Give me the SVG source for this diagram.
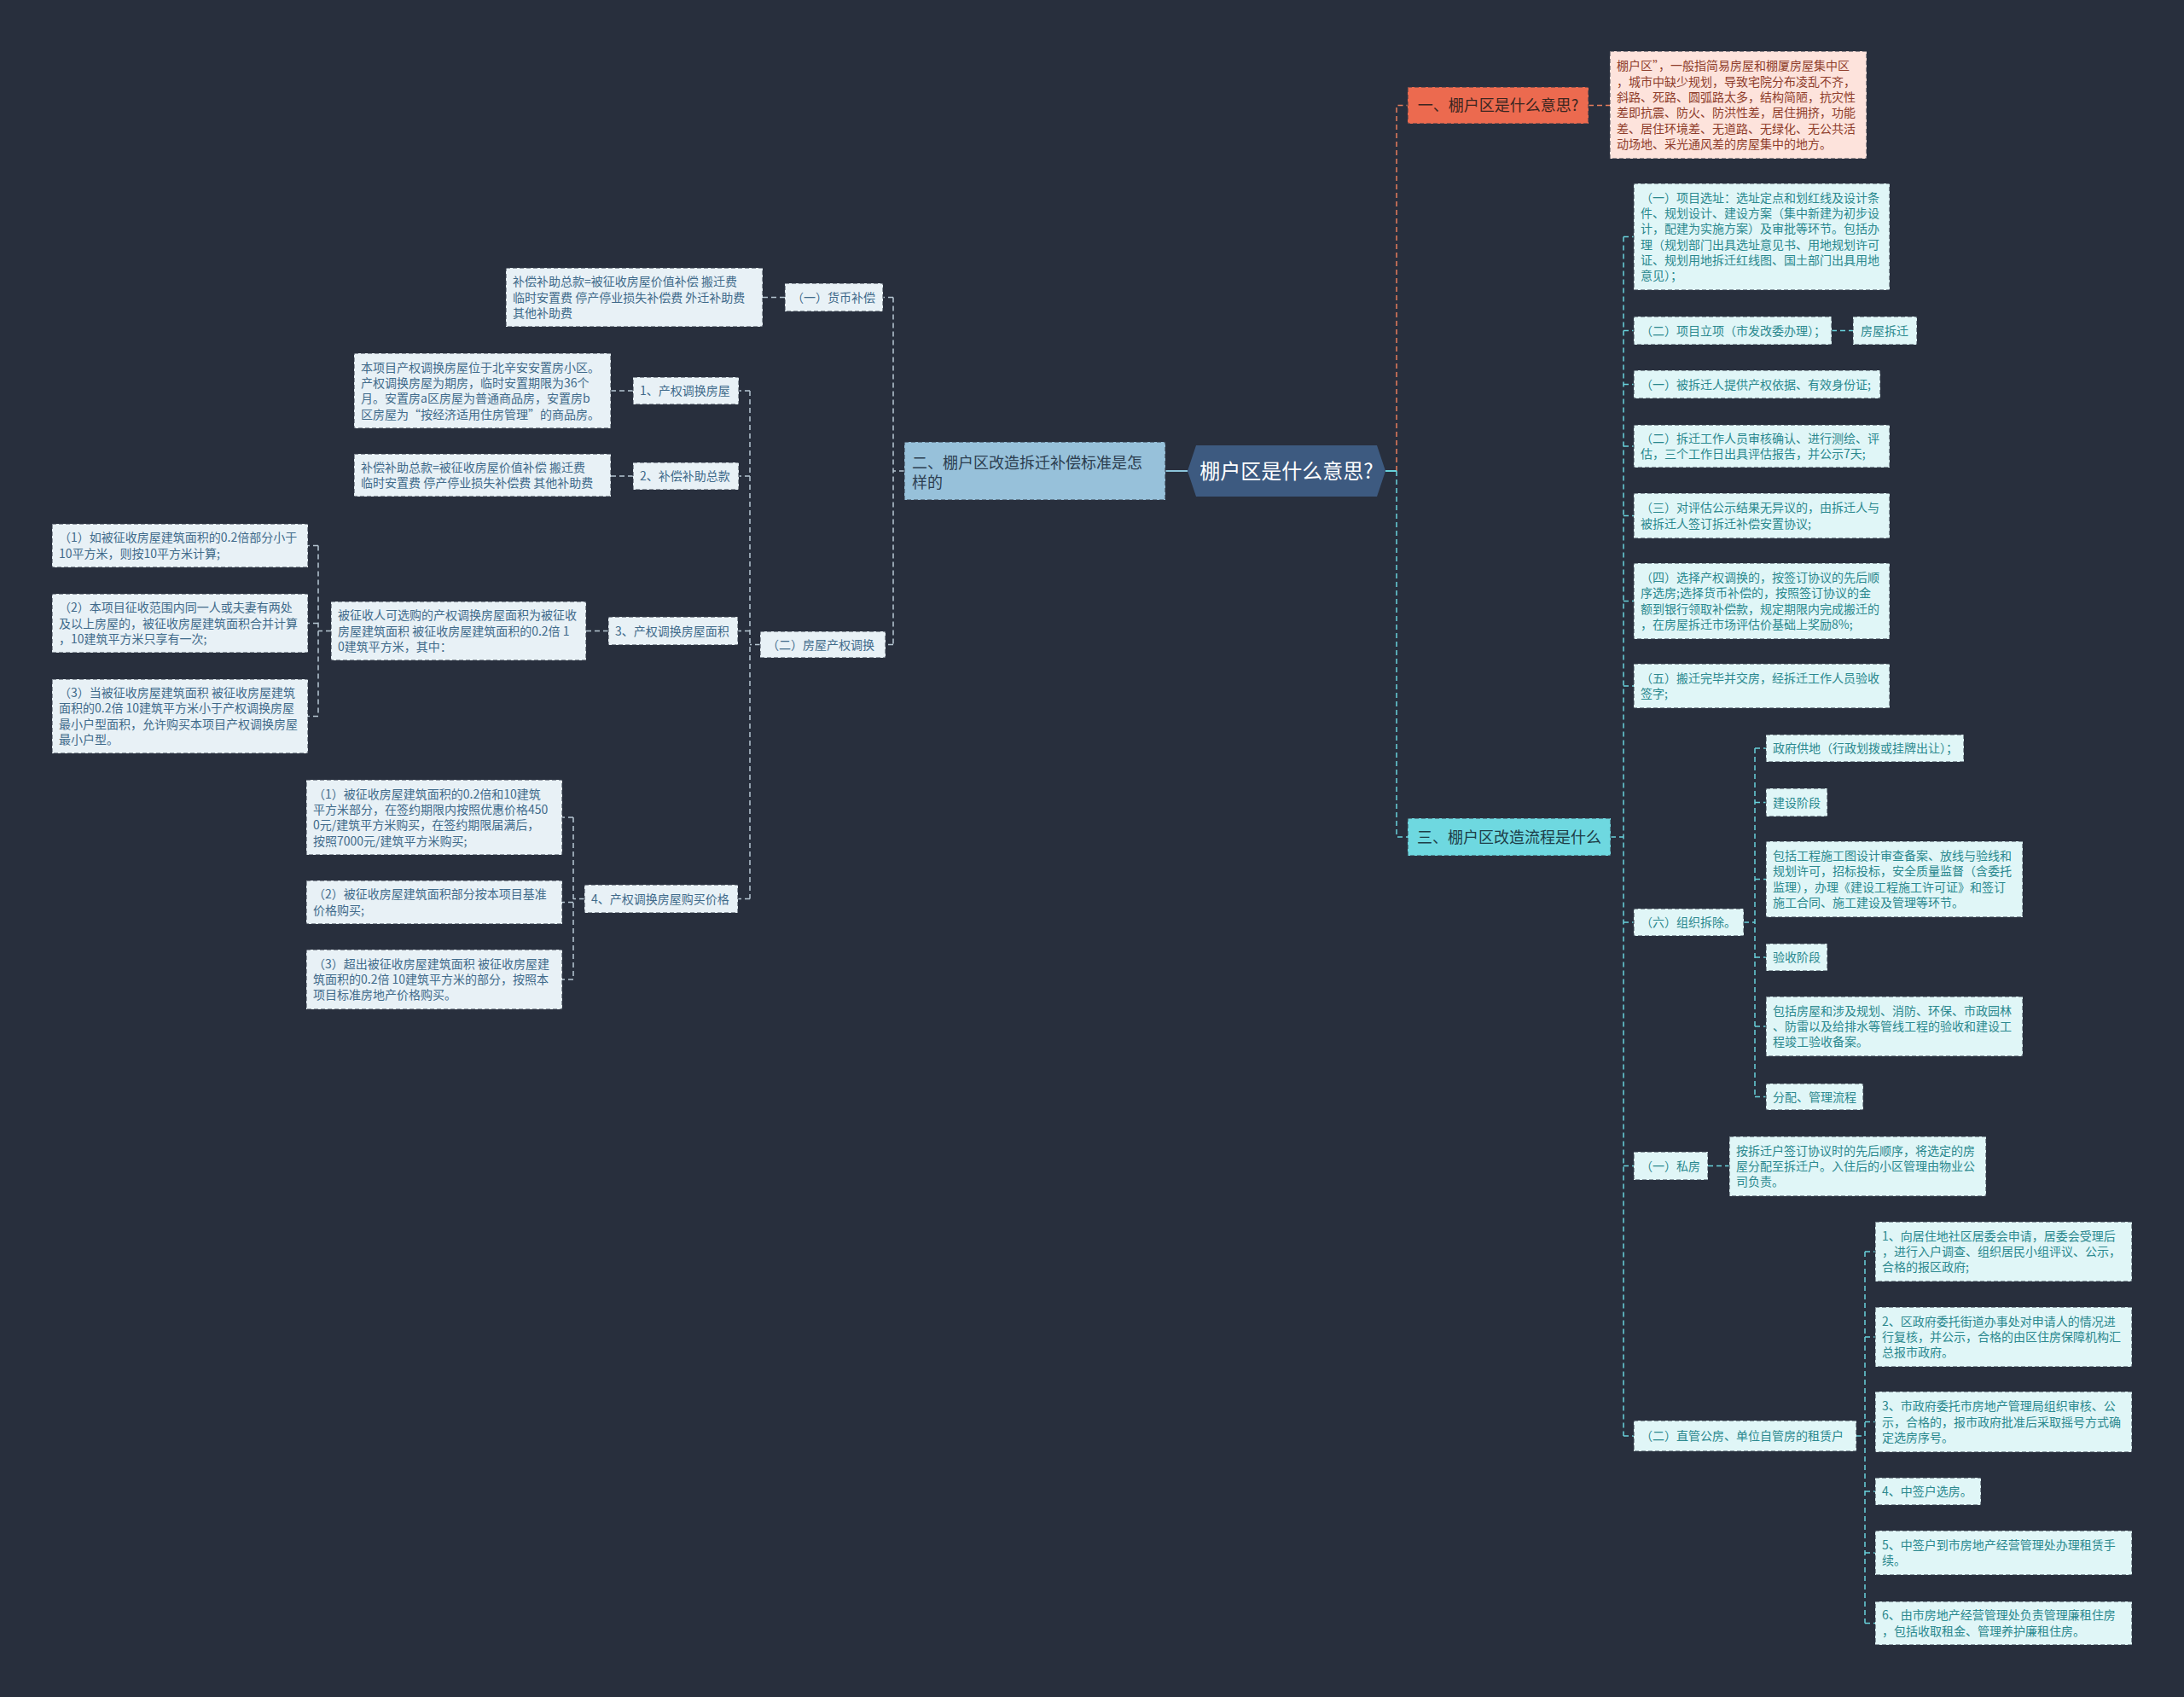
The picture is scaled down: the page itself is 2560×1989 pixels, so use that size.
<svg xmlns="http://www.w3.org/2000/svg" width="2560" height="1989" viewBox="0 0 2560 1989">
<style>
text{font-family:"Noto Sans CJK SC","Liberation Sans",sans-serif}
.bx{stroke:#2f3745;stroke-width:1;stroke-dasharray:5 3}
.lb{fill:#e8f1f6}
.tb{fill:#e0f6f7}
.rb{fill:#fde3dc}
.s{font-size:14px}
.lt{fill:#3f6a8a}
.tt{fill:#2a888e}
.rt{fill:#8f3d2b}
.c{fill:none;stroke-width:1.5;stroke-dasharray:6 4}
.cl{stroke:#b6c7d3}
.ct{stroke:#68d2db}
.co{stroke:#e67d5c}
</style>
<rect width="2560" height="1989" fill="#282f3d"/>
<g id="connectors">
<path class="c co" d="M1637,552 V123.5 H1650"/>
<path class="c co" d="M1862,123.5 H1887"/>
<path d="M1624,552 H1637" stroke="#68d2db" stroke-width="2"/>
<path d="M1366,552 H1392" stroke="#8cc4da" stroke-width="2"/>
<path class="c ct" d="M1637,552 V981 H1650"/>
<path class="c ct" d="M1888,981 H1903 M1903,277.5 V1683"/>
<path class="c ct" d="M1903,277.5 H1915 M1903,387.5 H1915 M1903,450.5 H1915 M1903,523 H1915 M1903,604.5 H1915 M1903,704.5 H1915 M1903,804 H1915 M1903,1081 H1915 M1903,1366.5 H1915 M1903,1683 H1915"/>
<path class="c ct" d="M2147,387.5 H2172"/>
<path class="c ct" d="M2044,1081 H2057 M2057,877 V1285.5 M2057,877 H2070 M2057,940.5 H2070 M2057,1030.5 H2070 M2057,1122 H2070 M2057,1203 H2070 M2057,1285.5 H2070"/>
<path class="c ct" d="M2002,1366.5 H2027"/>
<path class="c ct" d="M2176,1683 H2186 M2186,1467 V1902.5 M2186,1467 H2198 M2186,1567 H2198 M2186,1666.5 H2198 M2186,1748 H2198 M2186,1820 H2198 M2186,1902.5 H2198"/>
<path class="c cl" d="M1060,552 H1047 M1047,348.5 V755.5 M1047,348.5 H1035 M1047,755.5 H1038"/>
<path class="c cl" d="M920,348.5 H894"/>
<path class="c cl" d="M891,755.5 H879 M879,458 V1053.5 M879,458 H866 M879,558 H866 M879,739.5 H865 M879,1053.5 H865"/>
<path class="c cl" d="M742,458 H716 M742,558 H716 M713,739.5 H687"/>
<path class="c cl" d="M388,739.5 H373 M373,639.5 V839.5 M373,639.5 H361 M373,730.5 H361 M373,839.5 H361"/>
<path class="c cl" d="M685,1053.5 H672 M672,958 V1148 M672,958 H659 M672,1057.5 H659 M672,1148 H659"/>
</g>
<g id="root">
<polygon points="1392,552 1402,522 1614,522 1624,552 1614,582 1402,582" fill="#3d5a80"/>
<text x="1508" y="560.5" font-size="24" fill="#ffffff" text-anchor="middle">棚户区是什么意思?</text>
</g>
<g id="n1">
<rect x="1650" y="102" width="212" height="43" fill="#ec6a4f" class="bx"/>
<text x="1756" y="130" font-size="18" fill="#3a2520" text-anchor="middle">一、棚户区是什么意思?</text>
</g>
<g id="n1a">
<rect x="1887" y="60" width="301" height="126" class="bx rb"/>
<text class="s rt" x="1895" y="82.3"><tspan x="1895">棚户区”，一般指简易房屋和棚厦房屋集中区</tspan><tspan x="1895" dy="18.3">，城市中缺少规划，导致宅院分布凌乱不齐，</tspan><tspan x="1895" dy="18.3">斜路、死路、圆弧路太多，结构简陋，抗灾性</tspan><tspan x="1895" dy="18.3">差即抗震、防火、防洪性差，居住拥挤，功能</tspan><tspan x="1895" dy="18.3">差、居住环境差、无道路、无绿化、无公共活</tspan><tspan x="1895" dy="18.3">动场地、采光通风差的房屋集中的地方。</tspan></text>
</g>
<g id="n2">
<rect x="1060" y="518" width="306" height="68" fill="#97c1da" class="bx"/>
<text x="1069" y="548.5" font-size="18" fill="#2c3e50"><tspan x="1069">二、棚户区改造拆迁补偿标准是怎</tspan><tspan x="1069" dy="23">样的</tspan></text>
</g>
<g id="n3">
<rect x="1650" y="959" width="238" height="44" fill="#6ed8e0" class="bx"/>
<text x="1769" y="987.5" font-size="18" fill="#1d3d47" text-anchor="middle">三、棚户区改造流程是什么</text>
</g>
<g id="r1">
<rect x="1915" y="215" width="300" height="125" class="bx tb"/>
<text class="s tt" x="1923" y="236.8"><tspan x="1923">（一）项目选址：选址定点和划红线及设计条</tspan><tspan x="1923" dy="18.3">件、规划设计、建设方案（集中新建为初步设</tspan><tspan x="1923" dy="18.3">计，配建为实施方案）及审批等环节。包括办</tspan><tspan x="1923" dy="18.3">理（规划部门出具选址意见书、用地规划许可</tspan><tspan x="1923" dy="18.3">证、规划用地拆迁红线图、国土部门出具用地</tspan><tspan x="1923" dy="18.3">意见）；</tspan></text>
</g>
<g id="r2">
<rect x="1915" y="371" width="232" height="33" class="bx tb"/>
<text class="s tt" x="1923" y="392.5">（二）项目立项（市发改委办理）；</text>
</g>
<g id="r2a">
<rect x="2172" y="371" width="75" height="33" class="bx tb"/>
<text class="s tt" x="2181" y="392.5">房屋拆迁</text>
</g>
<g id="r3">
<rect x="1915" y="434" width="289" height="33" class="bx tb"/>
<text class="s tt" x="1923" y="455.5">（一）被拆迁人提供产权依据、有效身份证;</text>
</g>
<g id="r4">
<rect x="1915" y="498" width="300" height="50" class="bx tb"/>
<text class="s tt" x="1923" y="518.9"><tspan x="1923">（二）拆迁工作人员审核确认、进行测绘、评</tspan><tspan x="1923" dy="18.3">估，三个工作日出具评估报告，并公示7天;</tspan></text>
</g>
<g id="r5">
<rect x="1915" y="578" width="300" height="53" class="bx tb"/>
<text class="s tt" x="1923" y="600.4"><tspan x="1923">（三）对评估公示结果无异议的，由拆迁人与</tspan><tspan x="1923" dy="18.3">被拆迁人签订拆迁补偿安置协议;</tspan></text>
</g>
<g id="r6">
<rect x="1915" y="660" width="300" height="89" class="bx tb"/>
<text class="s tt" x="1923" y="682.1"><tspan x="1923">（四）选择产权调换的，按签订协议的先后顺</tspan><tspan x="1923" dy="18.3">序选房;选择货币补偿的，按照签订协议的金</tspan><tspan x="1923" dy="18.3">额到银行领取补偿款，规定期限内完成搬迁的</tspan><tspan x="1923" dy="18.3">，在房屋拆迁市场评估价基础上奖励8%;</tspan></text>
</g>
<g id="r7">
<rect x="1915" y="778" width="300" height="52" class="bx tb"/>
<text class="s tt" x="1923" y="799.9"><tspan x="1923">（五）搬迁完毕并交房，经拆迁工作人员验收</tspan><tspan x="1923" dy="18.3">签字;</tspan></text>
</g>
<g id="r8">
<rect x="1915" y="1065" width="129" height="32" class="bx tb"/>
<text class="s tt" x="1923" y="1086">（六）组织拆除。</text>
</g>
<g id="r8a">
<rect x="2070" y="861" width="232" height="32" class="bx tb"/>
<text class="s tt" x="2078" y="882">政府供地（行政划拨或挂牌出让）；</text>
</g>
<g id="r8b">
<rect x="2070" y="924" width="72" height="33" class="bx tb"/>
<text class="s tt" x="2078" y="945.5">建设阶段</text>
</g>
<g id="r8c">
<rect x="2070" y="986" width="301" height="89" class="bx tb"/>
<text class="s tt" x="2078" y="1008.1"><tspan x="2078">包括工程施工图设计审查备案、放线与验线和</tspan><tspan x="2078" dy="18.3">规划许可，招标投标，安全质量监督（含委托</tspan><tspan x="2078" dy="18.3">监理），办理《建设工程施工许可证》和签订</tspan><tspan x="2078" dy="18.3">施工合同、施工建设及管理等环节。</tspan></text>
</g>
<g id="r8d">
<rect x="2070" y="1106" width="72" height="32" class="bx tb"/>
<text class="s tt" x="2078" y="1127">验收阶段</text>
</g>
<g id="r8e">
<rect x="2070" y="1168" width="301" height="70" class="bx tb"/>
<text class="s tt" x="2078" y="1189.7"><tspan x="2078">包括房屋和涉及规划、消防、环保、市政园林</tspan><tspan x="2078" dy="18.3">、防雷以及给排水等管线工程的验收和建设工</tspan><tspan x="2078" dy="18.3">程竣工验收备案。</tspan></text>
</g>
<g id="r8f">
<rect x="2070" y="1270" width="114" height="31" class="bx tb"/>
<text class="s tt" x="2078" y="1290.5">分配、管理流程</text>
</g>
<g id="r9">
<rect x="1915" y="1350" width="87" height="33" class="bx tb"/>
<text class="s tt" x="1923" y="1371.5">（一）私房</text>
</g>
<g id="r9a">
<rect x="2027" y="1332" width="301" height="70" class="bx tb"/>
<text class="s tt" x="2035" y="1353.7"><tspan x="2035">按拆迁户签订协议时的先后顺序，将选定的房</tspan><tspan x="2035" dy="18.3">屋分配至拆迁户。入住后的小区管理由物业公</tspan><tspan x="2035" dy="18.3">司负责。</tspan></text>
</g>
<g id="r10">
<rect x="1915" y="1665" width="261" height="36" class="bx tb"/>
<text class="s tt" x="1923" y="1688">（二）直管公房、单位自管房的租赁户</text>
</g>
<g id="r10a">
<rect x="2198" y="1432" width="301" height="70" class="bx tb"/>
<text class="s tt" x="2206" y="1453.7"><tspan x="2206">1、向居住地社区居委会申请，居委会受理后</tspan><tspan x="2206" dy="18.3">，进行入户调查、组织居民小组评议、公示，</tspan><tspan x="2206" dy="18.3">合格的报区政府;</tspan></text>
</g>
<g id="r10b">
<rect x="2198" y="1532" width="301" height="70" class="bx tb"/>
<text class="s tt" x="2206" y="1553.7"><tspan x="2206">2、区政府委托街道办事处对申请人的情况进</tspan><tspan x="2206" dy="18.3">行复核，并公示，合格的由区住房保障机构汇</tspan><tspan x="2206" dy="18.3">总报市政府。</tspan></text>
</g>
<g id="r10c">
<rect x="2198" y="1631" width="301" height="71" class="bx tb"/>
<text class="s tt" x="2206" y="1653.2"><tspan x="2206">3、市政府委托市房地产管理局组织审核、公</tspan><tspan x="2206" dy="18.3">示，合格的，报市政府批准后采取摇号方式确</tspan><tspan x="2206" dy="18.3">定选房序号。</tspan></text>
</g>
<g id="r10d">
<rect x="2198" y="1732" width="124" height="32" class="bx tb"/>
<text class="s tt" x="2206" y="1753">4、中签户选房。</text>
</g>
<g id="r10e">
<rect x="2198" y="1794" width="301" height="52" class="bx tb"/>
<text class="s tt" x="2206" y="1815.9"><tspan x="2206">5、中签户到市房地产经营管理处办理租赁手</tspan><tspan x="2206" dy="18.3">续。</tspan></text>
</g>
<g id="r10f">
<rect x="2198" y="1877" width="301" height="51" class="bx tb"/>
<text class="s tt" x="2206" y="1898.4"><tspan x="2206">6、由市房地产经营管理处负责管理廉租住房</tspan><tspan x="2206" dy="18.3">，包括收取租金、管理养护廉租住房。</tspan></text>
</g>
<g id="l1">
<rect x="920" y="332" width="115" height="33" class="bx lb"/>
<text class="s lt" x="928" y="353.5">（一）货币补偿</text>
</g>
<g id="l1a">
<rect x="593" y="314" width="301" height="69" class="bx lb"/>
<text class="s lt" x="601" y="335.2"><tspan x="601">补偿补助总款=被征收房屋价值补偿 搬迁费</tspan><tspan x="601" dy="18.3">临时安置费 停产停业损失补偿费 外迁补助费</tspan><tspan x="601" dy="18.3">其他补助费</tspan></text>
</g>
<g id="l2">
<rect x="891" y="740" width="147" height="31" class="bx lb"/>
<text class="s lt" x="899" y="760.5">（二）房屋产权调换</text>
</g>
<g id="l2a">
<rect x="742" y="442" width="124" height="32" class="bx lb"/>
<text class="s lt" x="750" y="463">1、产权调换房屋</text>
</g>
<g id="l2a1">
<rect x="415" y="414" width="301" height="88" class="bx lb"/>
<text class="s lt" x="423" y="435.6"><tspan x="423">本项目产权调换房屋位于北辛安安置房小区。</tspan><tspan x="423" dy="18.3">产权调换房屋为期房，临时安置期限为36个</tspan><tspan x="423" dy="18.3">月。安置房a区房屋为普通商品房，安置房b</tspan><tspan x="423" dy="18.3">区房屋为“按经济适用住房管理”的商品房。</tspan></text>
</g>
<g id="l2b">
<rect x="742" y="542" width="124" height="32" class="bx lb"/>
<text class="s lt" x="750" y="563">2、补偿补助总款</text>
</g>
<g id="l2b1">
<rect x="415" y="532" width="301" height="50" class="bx lb"/>
<text class="s lt" x="423" y="552.9"><tspan x="423">补偿补助总款=被征收房屋价值补偿 搬迁费</tspan><tspan x="423" dy="18.3">临时安置费 停产停业损失补偿费 其他补助费</tspan></text>
</g>
<g id="l2c">
<rect x="713" y="723" width="152" height="33" class="bx lb"/>
<text class="s lt" x="721" y="744.5">3、产权调换房屋面积</text>
</g>
<g id="l2c1">
<rect x="388" y="705" width="299" height="69" class="bx lb"/>
<text class="s lt" x="396" y="726.2"><tspan x="396">被征收人可选购的产权调换房屋面积为被征收</tspan><tspan x="396" dy="18.3">房屋建筑面积 被征收房屋建筑面积的0.2倍 1</tspan><tspan x="396" dy="18.3">0建筑平方米，其中：</tspan></text>
</g>
<g id="l2c1a">
<rect x="61" y="614" width="300" height="51" class="bx lb"/>
<text class="s lt" x="69" y="635.4"><tspan x="69">（1）如被征收房屋建筑面积的0.2倍部分小于</tspan><tspan x="69" dy="18.3">10平方米，则按10平方米计算;</tspan></text>
</g>
<g id="l2c1b">
<rect x="61" y="696" width="300" height="69" class="bx lb"/>
<text class="s lt" x="69" y="717.2"><tspan x="69">（2）本项目征收范围内同一人或夫妻有两处</tspan><tspan x="69" dy="18.3">及以上房屋的，被征收房屋建筑面积合并计算</tspan><tspan x="69" dy="18.3">，10建筑平方米只享有一次;</tspan></text>
</g>
<g id="l2c1c">
<rect x="61" y="796" width="300" height="87" class="bx lb"/>
<text class="s lt" x="69" y="817.1"><tspan x="69">（3）当被征收房屋建筑面积 被征收房屋建筑</tspan><tspan x="69" dy="18.3">面积的0.2倍 10建筑平方米小于产权调换房屋</tspan><tspan x="69" dy="18.3">最小户型面积，允许购买本项目产权调换房屋</tspan><tspan x="69" dy="18.3">最小户型。</tspan></text>
</g>
<g id="l2d">
<rect x="685" y="1037" width="180" height="33" class="bx lb"/>
<text class="s lt" x="693" y="1058.5">4、产权调换房屋购买价格</text>
</g>
<g id="l2d1">
<rect x="359" y="914" width="300" height="88" class="bx lb"/>
<text class="s lt" x="367" y="935.6"><tspan x="367">（1）被征收房屋建筑面积的0.2倍和10建筑</tspan><tspan x="367" dy="18.3">平方米部分，在签约期限内按照优惠价格450</tspan><tspan x="367" dy="18.3">0元/建筑平方米购买，在签约期限届满后，</tspan><tspan x="367" dy="18.3">按照7000元/建筑平方米购买;</tspan></text>
</g>
<g id="l2d2">
<rect x="359" y="1032" width="300" height="51" class="bx lb"/>
<text class="s lt" x="367" y="1053.4"><tspan x="367">（2）被征收房屋建筑面积部分按本项目基准</tspan><tspan x="367" dy="18.3">价格购买;</tspan></text>
</g>
<g id="l2d3">
<rect x="359" y="1113" width="300" height="70" class="bx lb"/>
<text class="s lt" x="367" y="1134.7"><tspan x="367">（3）超出被征收房屋建筑面积 被征收房屋建</tspan><tspan x="367" dy="18.3">筑面积的0.2倍 10建筑平方米的部分，按照本</tspan><tspan x="367" dy="18.3">项目标准房地产价格购买。</tspan></text>
</g>
</svg>
